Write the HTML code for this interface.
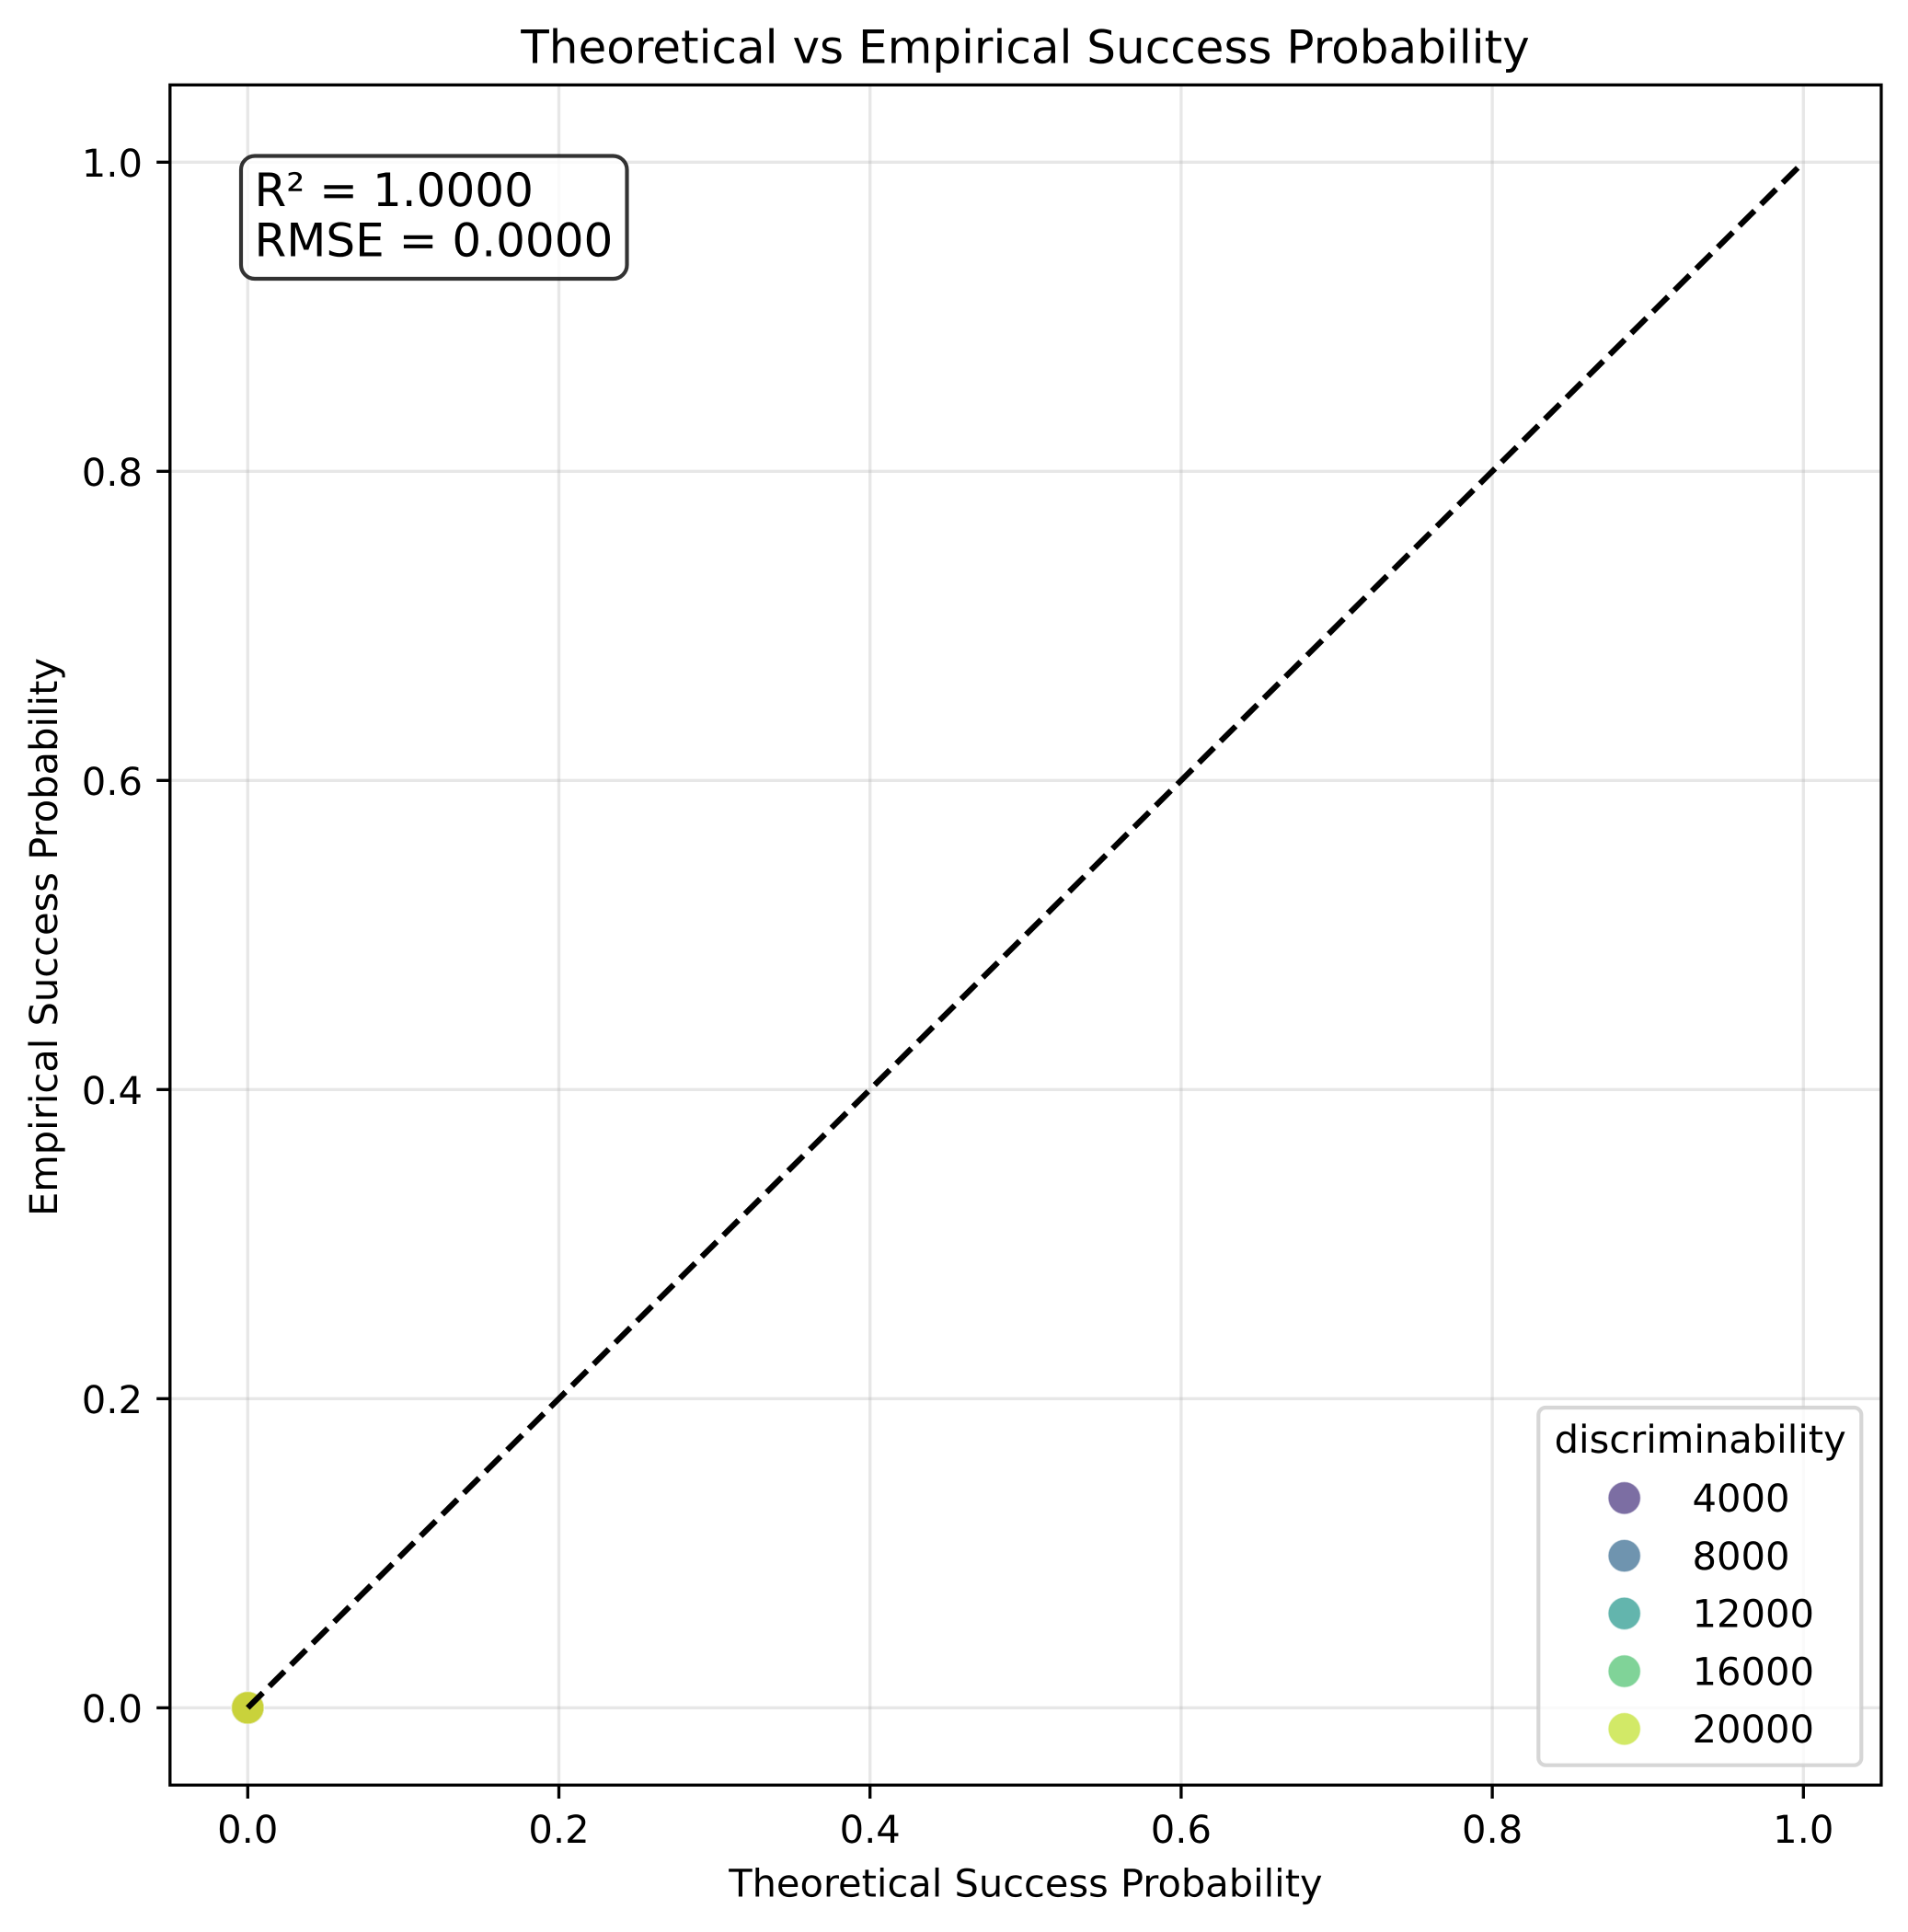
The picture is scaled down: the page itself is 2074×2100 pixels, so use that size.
<!DOCTYPE html>
<html lang="en">
<head>
<meta charset="utf-8">
<title>Theoretical vs Empirical Success Probability</title>
<style>
  html, body { margin: 0; padding: 0; background: #ffffff; }
  svg { display: block; }
  text { font-family: "DejaVu Sans", "Liberation Sans", sans-serif; fill: #000000; text-rendering: geometricPrecision; }
</style>
</head>
<body>
<svg id="chart" xmlns="http://www.w3.org/2000/svg" width="2074" height="2100" viewBox="0 0 2074 2100">
  <rect x="0" y="0" width="2074" height="2100" fill="#ffffff"/>
  <g id="grid"></g>
  <g id="points"></g>
  <g id="reference"></g>
  <g id="ticks"></g>
  <rect x="184.8" y="92.3" width="1860.1" height="1848" fill="none" stroke="#000000" stroke-width="3.33"/>
  <text x="1114.5" y="68.3" font-size="50" text-anchor="middle">Theoretical vs Empirical Success Probability</text>
  <text x="1114.9" y="2061.7" font-size="41.55" text-anchor="middle">Theoretical Success Probability</text>
  <text x="62" y="1018.5" font-size="41.6" text-anchor="middle" transform="rotate(-90 62 1018.5)">Empirical Success Probability</text>
  <g>
    <rect x="262" y="169.5" width="419.5" height="133.5" rx="15" ry="15" fill="#ffffff" fill-opacity="0.8" stroke="#000000" stroke-opacity="0.8" stroke-width="4.17"/>
    <text x="276.5" y="224" font-size="50">R² = 1.0000</text>
    <text x="276.5" y="278.7" font-size="50">RMSE = 0.0000</text>
  </g>
  <g id="legend">
    <rect x="1672.3" y="1530" width="351" height="388.7" rx="8" ry="8" fill="#ffffff" fill-opacity="0.8" stroke="#cccccc" stroke-opacity="0.8" stroke-width="4.17"/>
    <text x="1848.2" y="1579" font-size="41.6" text-anchor="middle">discriminability</text>
  </g>
</svg>
<script>
// Chart data
const tickValues = [0.0, 0.2, 0.4, 0.6, 0.8, 1.0];
const tickLabels = ["0.0", "0.2", "0.4", "0.6", "0.8", "1.0"];
const theoreticalProbability = [0, 0, 0, 0];
const empiricalProbability = [0, 0, 0, 0];
const discriminability = [2000, 6000, 16500, 22000];
const identityX = [0, 1];
const identityY = [0, 1];
const legendValues = [4000, 8000, 12000, 16000, 20000];
const legendLabels = ["4000", "8000", "12000", "16000", "20000"];

// Axis functions
const xScale = v => 269.3 + v * 1691;
const yScale = v => 1856.3 - v * 1680;
const hueScale = v => (v - 1050) / 21000;

const viridisStops = ["#440154", "#482475", "#414487", "#355f8d", "#2a788e", "#21918c", "#22a884", "#44bf70", "#7ad151", "#bddf26", "#fde725"];
function viridis(t) {
  const c = Math.max(0, Math.min(1, t)) * (viridisStops.length - 1);
  const i = Math.min(Math.floor(c), viridisStops.length - 2);
  const f = c - i;
  const a = viridisStops[i], b = viridisStops[i + 1];
  const ch = k => {
    const p = parseInt(a.substr(k, 2), 16), q = parseInt(b.substr(k, 2), 16);
    return Math.round(p + (q - p) * f);
  };
  return "rgb(" + ch(1) + "," + ch(3) + "," + ch(5) + ")";
}

const NS = "http://www.w3.org/2000/svg";
function make(tag, parent, attrs, txt) {
  const el = document.createElementNS(NS, tag);
  for (const k in attrs) el.setAttribute(k, attrs[k]);
  if (txt !== undefined) el.textContent = txt;
  parent.appendChild(el);
  return el;
}

const gridG = document.getElementById("grid");
const ticksG = document.getElementById("ticks");
const pointsG = document.getElementById("points");
const refG = document.getElementById("reference");
const legendG = document.getElementById("legend");
const gridStyle = { stroke: "#b0b0b0", "stroke-opacity": 0.3, "stroke-width": 3.33 };

tickValues.forEach((v, i) => {
  const x = xScale(v), y = yScale(v);
  const vg = make("line", gridG, Object.assign({ x1: x, x2: x, y1: 92.3, y2: 1940.3 }, gridStyle));
  
  
  const hg = make("line", gridG, Object.assign({ x1: 184.8, x2: 2044.9, y1: y, y2: y }, gridStyle));
  
  

  const xt = make("line", ticksG, { x1: x, x2: x, y1: 1940.3, y2: 1955, stroke: "#000", "stroke-width": 3.33 });
  
  
  const yt = make("line", ticksG, { x1: 170.2, x2: 184.8, y1: y, y2: y, stroke: "#000", "stroke-width": 3.33 });
  
  

  const xl = make("text", ticksG, { x: x, y: 2002.8, "font-size": 41.67, "text-anchor": "middle" }, tickLabels[i]);
  
  
  const yl = make("text", ticksG, { x: 155, y: y + 15.6, "font-size": 41.67, "text-anchor": "end" }, tickLabels[i]);
  
  
});

discriminability.forEach((d, i) => {
  const p = make("circle", pointsG, {
    cx: xScale(theoreticalProbability[i]),
    cy: yScale(empiricalProbability[i]),
    r: 17.8,
    fill: viridis(hueScale(d)),
    "fill-opacity": 0.7
  });
  
  
});
const pointRing = make("circle", pointsG, {
  cx: xScale(theoreticalProbability[0]),
  cy: yScale(empiricalProbability[0]),
  r: 17.8,
  fill: "none",
  stroke: "#ffffff",
  "stroke-opacity": 0.6,
  "stroke-width": 1.5
});



const ref = make("line", refG, {
  x1: xScale(identityX[0]), y1: yScale(identityY[0]),
  x2: xScale(identityX[1]), y2: yScale(identityY[1]),
  stroke: "#000", "stroke-width": 6.25, "stroke-dasharray": "23.125 10", "stroke-linecap": "butt"
});



legendValues.forEach((d, i) => {
  const y = 1628.3 + i * 62.75;
  const m = make("circle", legendG, { cx: 1765.7, cy: y, r: 17.8, fill: viridis(hueScale(d)), "fill-opacity": 0.7, stroke: "#ffffff", "stroke-opacity": 0.6, "stroke-width": 1.5 });
  
  
  const t = make("text", legendG, { x: 1839.5, y: y + 14.7, "font-size": 41.67 }, legendLabels[i]);
  
  
});
</script>
</body>
</html>
